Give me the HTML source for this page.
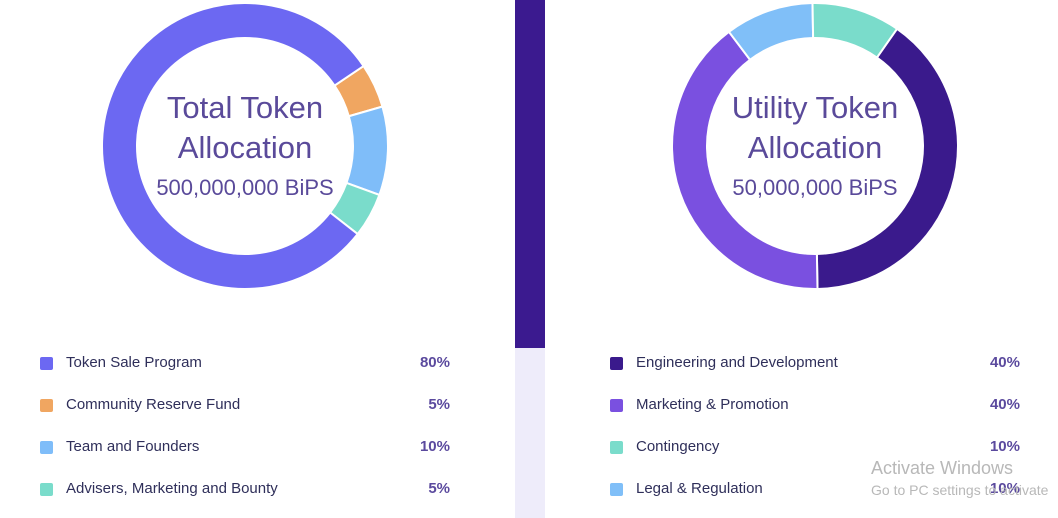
<!DOCTYPE html>
<html><head><meta charset="utf-8"><style>
body{margin:0;width:1058px;height:518px;background:#fff;font-family:"Liberation Sans",sans-serif;position:relative;overflow:hidden}
.bar-top{position:absolute;left:515px;top:0;width:30px;height:348px;background:#3b1a8f}
.bar-bot{position:absolute;left:515px;top:348px;width:30px;height:170px;background:#eeecfa}
.row{position:absolute;height:20px;font-size:15px;color:#2f2f5a}
.sw{position:absolute;left:0;top:3px;width:13px;height:13px;border-radius:2px}
.lbl{position:absolute;left:26px;top:0;white-space:nowrap}
.pct{position:absolute;top:0;font-weight:bold;color:#5b4a9e;text-align:right;width:60px}
.wm{position:absolute;left:871px;color:#b8b8b8}
</style></head><body>
<div class="bar-top"></div>
<div class="bar-bot"></div>
<svg id="svg" width="1058" height="518" style="position:absolute;left:0;top:0">
<g id="d1"></g><g id="d2"></g>
<text x="245" y="118" text-anchor="middle" font-size="31" fill="#5a4a9a">Total Token</text>
<text x="245" y="158" text-anchor="middle" font-size="31" fill="#5a4a9a">Allocation</text>
<text x="245" y="195" text-anchor="middle" font-size="22" fill="#5a4a9a">500,000,000 BiPS</text>
<text x="815" y="118" text-anchor="middle" font-size="31" fill="#5a4a9a">Utility Token</text>
<text x="815" y="158" text-anchor="middle" font-size="31" fill="#5a4a9a">Allocation</text>
<text x="815" y="195" text-anchor="middle" font-size="22" fill="#5a4a9a">50,000,000 BiPS</text>
</svg>
<div id="legends"></div>
<div class="wm" style="top:458px;font-size:18px">Activate Windows</div>
<div class="wm" style="top:482px;font-size:14px">Go to PC settings to activate</div>
<script>
const leftLabels=["Token Sale Program","Community Reserve Fund","Team and Founders","Advisers, Marketing and Bounty"];
const leftValues=[80,5,10,5];
const leftColors=["#6c68f2","#f0a661","#7fbdf9","#7adccb"];
const leftOrder=[1,2,3,0];
const rightLabels=["Engineering and Development","Marketing & Promotion","Contingency","Legal & Regulation"];
const rightValues=[40,40,10,10];
const rightColors=["#3a1a8c","#7a50e0","#7adccb","#80bff8"];
const rightOrder=[0,1,3,2];
const NS="http://www.w3.org/2000/svg";
function pt(cx,cy,r,a){const t=(a-90)*Math.PI/180;return [cx+r*Math.cos(t),cy+r*Math.sin(t)];}
function donut(g,cx,cy,vals,cols,order,start,labels){
  const tot=vals.reduce((a,b)=>a+b,0);let a=start;const R=143,r=108;
  order.forEach(i=>{const sw=vals[i]/tot*360;const b=a+sw;const lg=sw>180?1:0;
    const p1=pt(cx,cy,R,a),p2=pt(cx,cy,R,b),p3=pt(cx,cy,r,b),p4=pt(cx,cy,r,a);
    const p=document.createElementNS(NS,"path");
    p.setAttribute("d",`M${p1}A${R},${R} 0 ${lg} 1 ${p2}L${p3}A${r},${r} 0 ${lg} 0 ${p4}Z`);
    p.setAttribute("fill",cols[i]);p.setAttribute("stroke","#fff");p.setAttribute("stroke-width","2");
    
    
    g.appendChild(p);a=b;});
}
donut(document.getElementById("d1"),245,146,leftValues,leftColors,leftOrder,56,leftLabels);
donut(document.getElementById("d2"),815,146,rightValues,rightColors,rightOrder,35,rightLabels);
function legend(x,pctRight,labels,vals,cols){
  const L=document.getElementById("legends");
  labels.forEach((l,i)=>{const d=document.createElement("div");d.className="row";
    d.style.left=x+"px";d.style.top=(354+i*42)+"px";
    
    
    d.innerHTML=`<div class="sw" style="background:${cols[i]}"></div><div class="lbl">${l}</div><div class="pct" style="left:${pctRight-x-60}px">${vals[i]}%</div>`;
    L.appendChild(d);});
}
legend(40,450,leftLabels,leftValues,leftColors);
legend(610,1020,rightLabels,rightValues,rightColors);
</script>
</body></html>
